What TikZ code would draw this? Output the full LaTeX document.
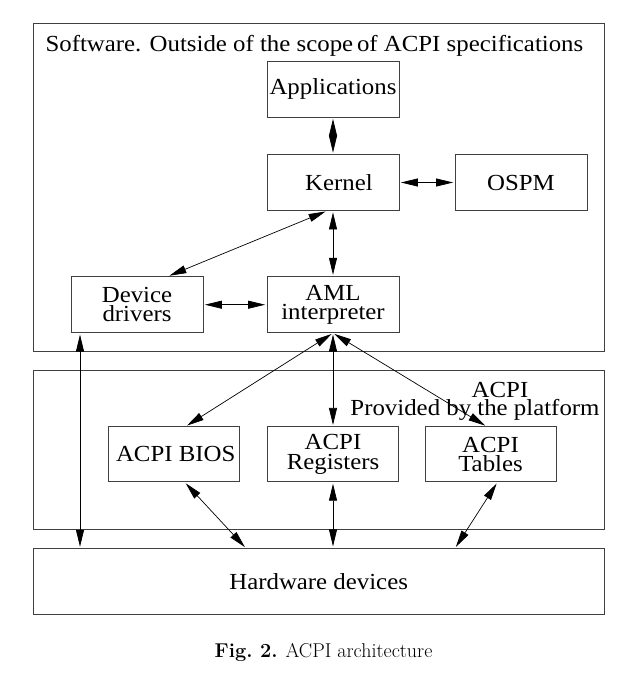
\documentclass[tikz,border=0pt]{standalone}
\usepackage{fontspec}
\newfontfamily\boxfont{Liberation Serif}[FakeStretch=1.08]
\usetikzlibrary{arrows.meta}

\tikzset{
  box/.style={draw=black!75, line width=0.8pt, minimum width=132pt,
    minimum height=56pt, inner sep=0pt, align=center},
  area/.style={draw=black!75, line width=0.8pt},
  link/.style={{Triangle[length=17pt 0 0,width=8pt 0 0]}-{Triangle[length=17pt 0 0,width=8pt 0 0]},
    line width=0.7pt, shorten <=1.5pt, shorten >=1.5pt},
  txt/.style={font=\boxfont\fontsize{23}{19.5}\selectfont}
}

\begin{document}
\begin{tikzpicture}[x=1pt, y=-1pt, every node/.append style={txt}]
\useasboundingbox (0,0) rectangle (640,681);

% Software and ACPI areas
\draw[area] (33.3,23.3) rectangle (604,351);
\draw[area] (33.3,370) rectangle (604,529.3);
\node[anchor=base west] (title) at (42,51.7) {Software. Outside of the scope\,of ACPI specifications};
\node[anchor=base] (acpitxt) at (500,397) {ACPI};
\node[anchor=base] (provtxt) at (475,415) {Provided by the platform};

% Hardware
\node[area, minimum width=570.7pt, minimum height=65.7pt, inner sep=0pt] (hw) at (318.65,581.15) {\raisebox{-5pt}{Hardware devices}};

% Software boxes
\node[box] (app) at (333,89) {Applications};
\node[box] (kernel) at (333,182.5) {\hspace*{12pt}Kernel};
\node[box] (ospm) at (521,182.5) {OSPM};
\node[box] (drivers) at (137,304.7) {Device\\drivers};
\node[box] (aml) at (333,304.7) {AML\\interpreter};

% ACPI boxes
\node[box, minimum width=131pt, minimum height=55pt] (bios) at (173.7,454.3) {\hspace*{4pt}ACPI BIOS};
\node[box, minimum width=131pt, minimum height=55pt] (regs) at (333,454.3) {ACPI\\Registers};
\node[box, minimum width=131pt, minimum height=55pt] (tables) at (490.5,454.3) {ACPI\\Tables};

% Ends on the hardware box
\coordinate (hwA) at (80,548.3);
\coordinate (hwB) at (246,548.3);
\coordinate (hwC) at (455,548.3);

% Links
\draw[link] (app) -- (kernel);
\draw[link] (kernel) -- (ospm);
\draw[link] ([xshift=-6pt]kernel.south) -- ([xshift=31pt]drivers.north);
\draw[link] (kernel) -- (aml);
\draw[link] (drivers) -- (aml);
\draw[link] (aml.south) -- ([xshift=12pt]bios.north);
\draw[link] (aml) -- (regs);
\draw[link] (aml.south) -- ([xshift=-4pt]tables.north);
\draw[link] ([xshift=-57pt]drivers.south) -- (hwA);
\draw[link] ([xshift=11pt]bios.south) -- (hwB);
\draw[link] (regs) -- (regs.south |- hw.north);
\draw[link] ([xshift=7pt]tables.south) -- (hwC);

% Caption
\node[anchor=base, font=\fontsize{20}{22}\selectfont] (caption) at (323.5,657) {\textbf{Fig.~2.} ACPI architecture};
\end{tikzpicture}
\end{document}
